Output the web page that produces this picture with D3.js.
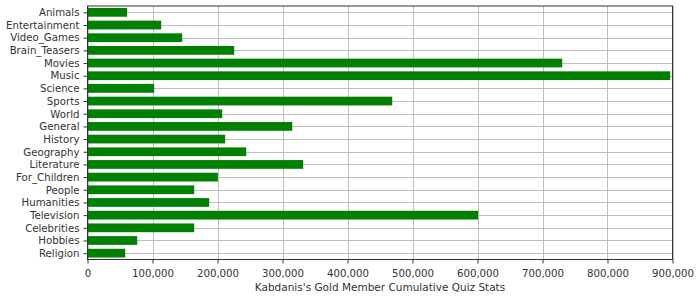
<!DOCTYPE html>
<html><head><meta charset="utf-8">
<script src="https://cdn.jsdelivr.net/npm/d3@7"></script>
<style>body{margin:0;background:#fff}svg{display:block}text{font-family:"DejaVu Sans",sans-serif;fill:#333}</style>
</head><body><svg id="c" width="700" height="300"></svg>
<script>
const categories = ["Animals","Entertainment","Video_Games","Brain_Teasers","Movies","Music","Science","Sports","World","General","History","Geography","Literature","For_Children","People","Humanities","Television","Celebrities","Hobbies","Religion"];
const values = [61000,113400,145700,225700,730300,896500,102600,468800,207200,315000,211800,244200,331800,200600,164200,187200,601000,164200,76500,58000];
const xTicks = [0,100000,200000,300000,400000,500000,600000,700000,800000,900000];
const axisTitle = "Kabdanis's Gold Member Cumulative Quiz Stats";

const L=87.5, R=672.5, T=6, B=259.5;
const svg=d3.select("#c");
const x=d3.scaleLinear().domain([0,900000]).range([L,R]);
const y=d3.scaleBand().domain(categories).range([T,B]).paddingInner(0.31).paddingOuter(0.155);
const yc=d=>y(d)+y.bandwidth()/2;

// gridlines
svg.append("g").selectAll("line.v").data(xTicks).join("line")
 .attr("x1",d=>Math.round(x(d))+0.5).attr("x2",d=>Math.round(x(d))+0.5).attr("y1",T).attr("y2",B)
 .attr("stroke","#c0c0c0");
svg.append("g").selectAll("line.h").data(categories).join("line")
 .attr("x1",L).attr("x2",R).attr("y1",d=>Math.round(yc(d))+0.5).attr("y2",d=>Math.round(yc(d))+0.5)
 .attr("stroke","#c0c0c0");

// bars
svg.append("g").selectAll("rect").data(categories).join("rect")
 .attr("x",x(0)).attr("y",d=>y(d)).attr("height",y.bandwidth())
 .attr("width",(d,i)=>x(values[i])-x(0)).attr("fill","#008000");

// border
svg.append("rect").attr("x",L).attr("y",T).attr("width",R-L).attr("height",B-T)
 .attr("fill","none").attr("stroke","#333");

// axes
const yAxis=d3.axisLeft(d3.scalePoint().domain(categories).range([yc(categories[0]),yc(categories[categories.length-1])])).tickSize(4).tickPadding(4);
const ga=svg.append("g").attr("transform",`translate(${L},0)`).call(yAxis);
ga.select(".domain").remove();
ga.selectAll("text").style("font-size","10.2px").attr("fill","#333");
ga.selectAll("line").attr("stroke","#333");

const xAxis=d3.axisBottom(x).tickValues(xTicks).tickFormat(d3.format(",")).tickSize(4).tickPadding(6);
const gb=svg.append("g").attr("transform",`translate(0,${B})`).call(xAxis);
gb.select(".domain").remove();
gb.selectAll("text").style("font-size","10.2px").attr("fill","#333");
gb.selectAll("line").attr("stroke","#333");

svg.append("text").attr("x",(L+R)/2).attr("y",291).attr("text-anchor","middle")
 .style("font-size","10.5px").text(axisTitle);
</script></body></html>
